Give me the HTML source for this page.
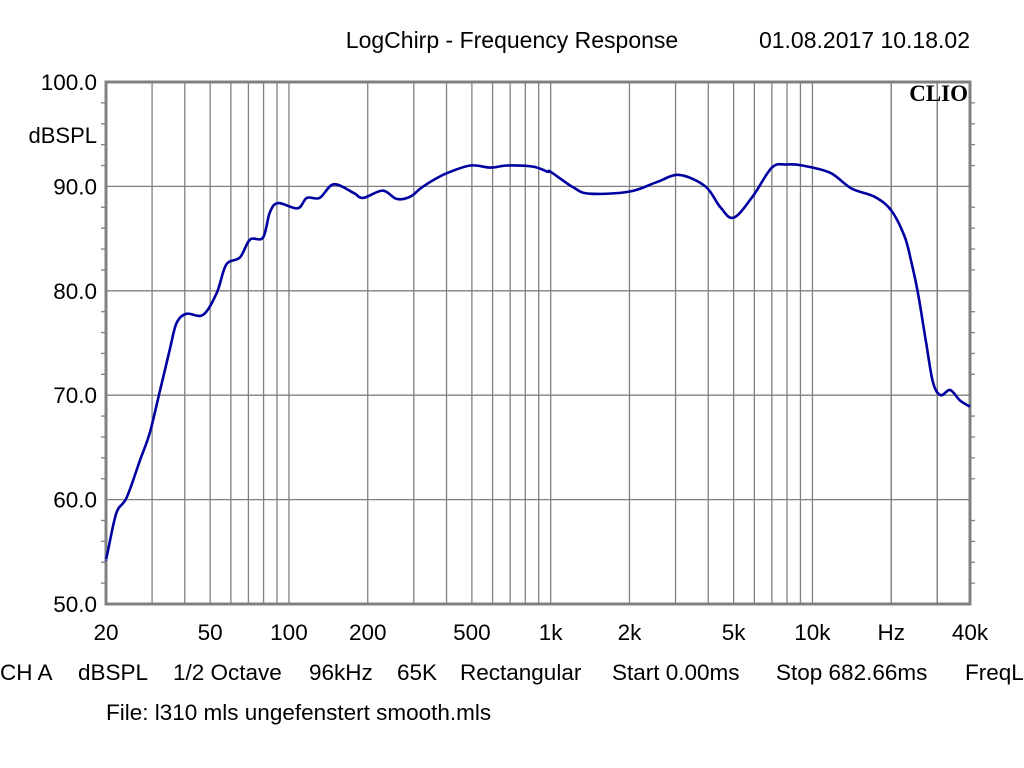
<!DOCTYPE html>
<html><head><meta charset="utf-8"><style>
body{margin:0;background:#fff;}
svg{display:block;font-family:"Liberation Sans",Arial,sans-serif;}
</style></head><body>
<svg id="chart" width="1024" height="768" viewBox="0 0 1024 768">
<rect width="1024" height="768" fill="#fff"/>
<text x="512" y="48" font-size="23" text-anchor="middle">LogChirp - Frequency Response</text>
<text x="970" y="48" font-size="23" text-anchor="end">01.08.2017 10.18.02</text>
<g id="grid"></g>
<g id="axes"></g>
<g id="series"></g>
<text x="968" y="101" font-size="23" font-weight="bold" text-anchor="end" font-family="Liberation Serif,serif">CLIO</text>
<text x="97" y="143" font-size="22" text-anchor="end">dBSPL</text>
<text y="680" font-size="22.5">
<tspan x="0">CH A</tspan><tspan x="78">dBSPL</tspan><tspan x="173">1/2 Octave</tspan><tspan x="309">96kHz</tspan><tspan x="397">65K</tspan><tspan x="460">Rectangular</tspan><tspan x="612">Start 0.00ms</tspan><tspan x="776">Stop 682.66ms</tspan><tspan x="965">FreqL</tspan></text>
<text x="106" y="720" font-size="22.5">File: l310 mls ungefenstert smooth.mls</text>
</svg>
<script>
const freqs=[20,20.2,21.9,24,27,29.4,32,35,37.2,40.6,47,53,57.6,65,71,79.6,84.5,90.8,108,117,131,148,176,192,228,258,290,318,356,404,494,590,680,856,975,1000,1220,1410,2000,2540,3100,3900,4450,5000,5900,7000,7950,9160,11700,14100,17300,20000,22500,23800,25300,27200,28900,30900,33600,36600,40000];
const dbs=[54.3,54.7,58.7,60.2,63.8,66.4,70.2,74.3,76.9,77.8,77.7,79.8,82.5,83.2,84.9,85.1,87.5,88.4,87.9,88.9,88.9,90.2,89.4,88.9,89.6,88.8,89.0,89.8,90.6,91.3,92.0,91.8,92.0,91.9,91.4,91.4,89.9,89.3,89.5,90.4,91.1,90.0,88.0,87.0,89.0,91.8,92.1,92.0,91.3,89.8,89.0,87.7,85.2,82.9,79.8,75.0,71.2,70.0,70.5,69.5,68.9];
const yTicks=[50,60,70,80,90,100];
const xTickVals=[20,50,100,200,500,1000,2000,5000,10000,20000,40000];
const xTickLabels=["20","50","100","200","500","1k","2k","5k","10k","Hz","40k"];
const X0=106,X1=970,Y0=82,Y1=604,FMIN=20,FMAX=40000,DMIN=50,DMAX=100;
const NS="http://www.w3.org/2000/svg";
function xs(f){return X0+(X1-X0)*Math.log10(f/FMIN)/Math.log10(FMAX/FMIN);}
function ys(d){return Y1-(Y1-Y0)*(d-DMIN)/(DMAX-DMIN);}
function mk(t,a,p){const e=document.createElementNS(NS,t);for(const k in a)e.setAttribute(k,a[k]);p.appendChild(e);return e;}
const grid=document.getElementById('grid'),axes=document.getElementById('axes'),series=document.getElementById('series');
const vg=[];
for(let dec=10;dec<=10000;dec*=10)for(let m=1;m<10;m++){const f=dec*m;if(f>FMIN&&f<FMAX)vg.push(f);}
vg.push(20000,30000);
vg.forEach(f=>{if(f>=FMAX)return;const l=mk('line',{x1:xs(f),x2:xs(f),y1:Y0,y2:Y1,stroke:'#808080','stroke-width':1.3},grid);

});
yTicks.forEach(d=>{const l=mk('line',{x1:X0,x2:X1,y1:ys(d),y2:ys(d),stroke:'#808080','stroke-width':1.3},grid);


const t=mk('text',{x:97,y:ys(d)+8,'font-size':22.5,'text-anchor':'end'},axes);t.textContent=d.toFixed(1);

});
for(let d=DMIN+2;d<DMAX;d+=2){if(d%10===0)continue;
[[X0-5,X0],[X1,X1+5]].forEach(p=>{const l=mk('line',{x1:p[0],x2:p[1],y1:ys(d),y2:ys(d),stroke:'#808080','stroke-width':1.3},axes);

});}
const fr=mk('rect',{x:X0,y:Y0,width:X1-X0,height:Y1-Y0,fill:'none',stroke:'#808080','stroke-width':3},axes);


xTickVals.forEach((f,i)=>{const t=mk('text',{x:xs(f),y:640,'font-size':22.5,'text-anchor':'middle'},axes);t.textContent=xTickLabels[i];

});
const pts=freqs.map((f,i)=>[xs(f),ys(dbs[i])]);
let d='M'+pts[0][0].toFixed(1)+' '+pts[0][1].toFixed(1);
for(let i=0;i<pts.length-1;i++){const p0=pts[Math.max(0,i-1)],p1=pts[i],p2=pts[i+1],p3=pts[Math.min(pts.length-1,i+2)];
const c1=[p1[0]+(p2[0]-p0[0])/6,p1[1]+(p2[1]-p0[1])/6],c2=[p2[0]-(p3[0]-p1[0])/6,p2[1]-(p3[1]-p1[1])/6];
d+='C'+c1[0].toFixed(1)+' '+c1[1].toFixed(1)+' '+c2[0].toFixed(1)+' '+c2[1].toFixed(1)+' '+p2[0].toFixed(1)+' '+p2[1].toFixed(1);}
const p=mk('path',{d:d,fill:'none',stroke:'#0000a0','stroke-width':2.6,'stroke-linejoin':'round'},series);


</script>
</body></html>
